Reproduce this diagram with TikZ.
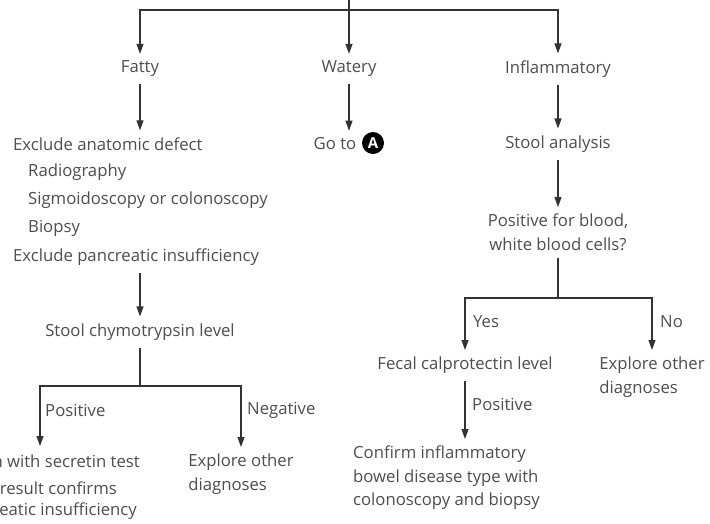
\documentclass[tikz,border=0pt]{standalone}
\usepackage{fontspec}
\setmainfont{Open Sans}
\usetikzlibrary{arrows.meta}
\begin{document}
\begin{tikzpicture}[x=1pt, y=-1pt, >={Triangle[width=7pt,length=10pt]},
  txt/.style={font=\fontsize{16.7}{23.5}\selectfont, text=inkgray,
    inner xsep=1pt, inner ysep=7pt},
  flow/.style={draw=linegray, line width=1.1pt, ->},
  rule/.style={draw=linegray, line width=1.1pt}]
  \definecolor{inkgray}{HTML}{4D4D4D}
  \definecolor{linegray}{HTML}{333333}

  % ---- page frame, the reference is cut at its edges ------------------------
  \useasboundingbox (0,0) rectangle (710,523);
  \clip (0,0) rectangle (710,523);

  % ---- the three kinds of stool ---------------------------------------------
  \coordinate (top) at (349,-2);
  \coordinate (split) at (349,10);
  \node[txt] (fatty)  at (140,69) {Fatty};
  \node[txt] (watery) at (349,69) {Watery};
  \node[txt] (inflam) at (558,69) {Inflammatory};
  \draw[flow] (top) -- (watery);
  \draw[flow] (split) -| (fatty);
  \draw[flow] (split) -| (inflam);

  % ---- fatty branch ---------------------------------------------------------
  % #1 name, #2 x of the line start, #3 y, #4 text
  \foreach \nm/\xx/\yy/\lbl in {%
    excl/12/144/{Exclude anatomic defect},
    radio/27/172/{Radiography},
    sigmo/27/200/{Sigmoidoscopy or colonoscopy},
    biopsy/27/228/{Biopsy},
    pancr/12/257/{Exclude pancreatic insufficiency}%
  }{
    \node[txt, anchor=west] (\nm) at (\xx,\yy) {\lbl};
  }
  \draw[flow] (fatty) -- (fatty |- excl.north);
  \node[txt] (chymo) at (140,332) {Stool chymotrypsin level};
  \draw[flow] (fatty |- pancr.south) -- (chymo);

  \coordinate (chymosplit) at (140,386);
  \coordinate (posend) at (40,446);
  % left column is cut by the frame: lines set by their right ends
  \node[txt, anchor=east] (secretin) at (141,461) {Confirm with secretin test};
  \node[txt, anchor=east] (abnres) at (118,488) {Abnormal result confirms};
  \node[txt, anchor=east] (pancins) at (138,511) {pancreatic insufficiency};
  \node[txt, anchor=north, align=left] (explL) at (241,447)
    {Explore other\\diagnoses};
  \draw[rule] (chymo) -- (chymosplit);
  \draw[flow] (chymosplit) -| (posend);
  \draw[flow] (chymosplit) -| (explL);
  \node[txt, anchor=west] (poslbl) at (44,410) {Positive};
  \node[txt, anchor=west] (neglbl) at (246,410) {Negative};

  % ---- watery branch --------------------------------------------------------
  \node[txt] (goto) at (335,144) {Go to};
  \node[circle, fill=black, text=white, inner sep=0pt, minimum size=22pt,
    font=\fontsize{15}{15}\selectfont\bfseries] (markA) at (373,143) {A};
  \draw[flow] (watery) -- (watery |- goto.north);

  % ---- inflammatory branch --------------------------------------------------
  \node[txt] (stool) at (558,144) {Stool analysis};
  \node[txt, anchor=north, align=center] (blood) at (558,207)
    {Positive for blood,\\white blood cells?};
  \draw[flow] (inflam) -- (stool);
  \draw[flow] (stool) -- (blood);

  \coordinate (bloodsplit) at (558,298);
  \node[txt, anchor=north] (fecal) at (465,350) {Fecal calprotectin level};
  \node[txt, anchor=north, align=left] (explR) at (652,350)
    {Explore other\\diagnoses};
  \draw[rule] (blood) -- (bloodsplit);
  \draw[flow] (bloodsplit) -| (fecal);
  \draw[flow] (bloodsplit) -| (explR);
  \node[txt, anchor=west] (yeslbl) at (472,322) {Yes};
  \node[txt, anchor=west] (nolbl) at (659,322) {No};

  \node[txt, anchor=north west, align=left] (confirm) at (352,439)
    {Confirm inflammatory\\bowel disease type with\\colonoscopy and biopsy};
  \draw[flow] (fecal) -- (fecal |- confirm.north);
  \node[txt, anchor=west] (pos2lbl) at (471,404) {Positive};
\end{tikzpicture}
\end{document}
